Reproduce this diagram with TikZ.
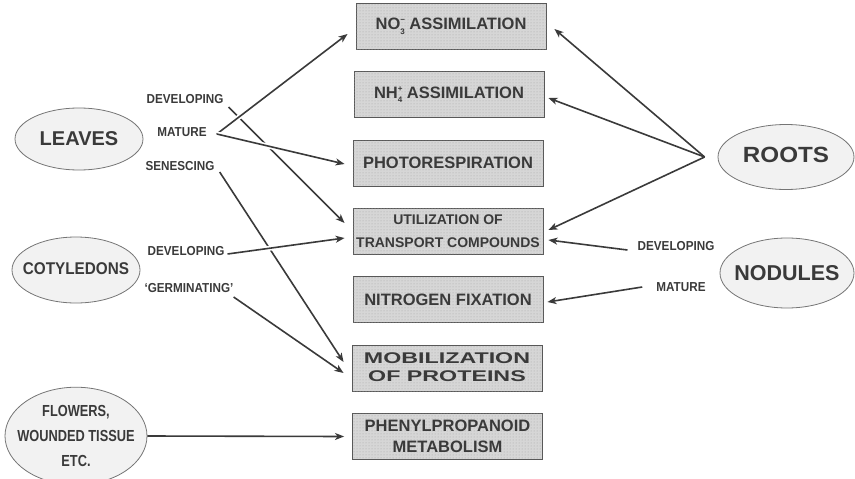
\documentclass[tikz,border=0pt]{standalone}
\usepackage{fontspec}
\setmainfont{Liberation Sans}
\usepackage{graphicx}
\usetikzlibrary{arrows.meta,shapes.geometric,patterns}
\definecolor{ink}{HTML}{3A3A3A}
\newcommand{\ionsub}[2]{\rlap{\raisebox{7pt}{\fontsize{8}{8}\selectfont #2}}\raisebox{-4.5pt}{\fontsize{8}{8}\selectfont #1}}
\newcommand{\squeeze}[2]{\scalebox{#1}[1]{\begin{tabular}{@{}c@{}}#2\end{tabular}}}
\tikzset{>/.tip={Stealth[length=9pt,width=7pt,inset=2.5pt]},
  procbox/.style={draw=ink!85, fill=black!16, line width=0.9pt, minimum width=190pt, minimum height=46pt,
    postaction={pattern=dots, pattern color=black!35},
    align=center, text=ink, inner sep=0pt, font=\bfseries\fontsize{16.5}{21}\selectfont},
  organ/.style={ellipse, draw=ink!70, fill=black!5, line width=0.8pt, text=ink, align=center,
    inner xsep=-9pt, inner ysep=0pt},
  stage/.style={text=ink, inner sep=1pt, font=\bfseries\fontsize{13}{15}\selectfont},
  flow/.style={->, color=ink, line width=1.6pt},
  over/.style={preaction={draw=white, line width=5pt, -}}}

\begin{document}
\begin{tikzpicture}[x=1pt,y=-1pt]
\useasboundingbox (0,0) rectangle (855,479);

\node[procbox] (no3) at (451,26.5) {NO\ionsub{3}{\textminus}\ ASSIMILATION};
\node[procbox] (nh4) at (449,94.5) {NH\ionsub{4}{+}\ ASSIMILATION};
\node[procbox] (photo) at (448,163) {PHOTORESPIRATION};
\node[procbox, font=\bfseries\fontsize{14}{23}\selectfont] (util) at (448,231.5) {UTILIZATION OF\\TRANSPORT COMPOUNDS};
\node[procbox] (fix) at (448,299.5) {NITROGEN FIXATION};
\node[procbox, font=\bfseries\fontsize{15.5}{18}\selectfont] (mobil) at (447,368.5) {\squeeze{1.5}{MOBILIZATION\\OF PROTEINS}};
\node[procbox] (phenyl) at (447.5,436.5) {PHENYLPROPANOID\\METABOLISM};

\node[organ, minimum width=128pt, minimum height=62pt, font=\bfseries\fontsize{20}{24}\selectfont] (leaves) at (79,139) {LEAVES};
\node[organ, minimum width=128pt, minimum height=66pt, font=\bfseries\fontsize{17}{20}\selectfont] (cotyl) at (76,270) {\squeeze{0.9}{COTYLEDONS}};
\node[organ, minimum width=142pt, minimum height=82pt, inner ysep=-3pt, font=\bfseries\fontsize{16}{25}\selectfont] (flowers) at (76,436) {\squeeze{0.8}{FLOWERS,\\WOUNDED TISSUE\\ETC.}};
\node[organ, minimum width=136pt, minimum height=65pt, font=\bfseries\fontsize{22}{26}\selectfont] (roots) at (786,157) {\squeeze{1.1}{ROOTS}};
\node[organ, minimum width=134pt, minimum height=70pt, font=\bfseries\fontsize{21.5}{26}\selectfont] (nodules) at (787,273) {NODULES};

\node[stage] (leaves-dev) at (185,100) {\squeeze{0.9}{DEVELOPING}};
\node[stage] (leaves-mat) at (182,133) {\squeeze{0.9}{MATURE}};
\node[stage] (leaves-sen) at (180,167) {\squeeze{0.9}{SENESCING}};
\node[stage] (cot-dev) at (186,252) {\squeeze{0.9}{DEVELOPING}};
\node[stage] (cot-germ) at (189,289) {\squeeze{0.9}{`GERMINATING'}};
\node[stage] (nod-dev) at (676,247) {\squeeze{0.9}{DEVELOPING}};
\node[stage] (nod-mat) at (681,288) {\squeeze{0.9}{MATURE}};

\coordinate (roots-in) at ([xshift=-13pt]roots.west);

\path[flow] ([xshift=4pt,yshift=-7pt]leaves-dev.east) edge ([xshift=-8pt,yshift=8.5pt]util.west);
\path[flow] ([xshift=4pt,yshift=-5pt]leaves-sen.east) edge ([xshift=-8pt,yshift=6.5pt]mobil.west);
\path[flow] ([xshift=9pt,yshift=-1pt]leaves-mat.east) edge[over] ([xshift=-8pt,yshift=-7.5pt]no3.west);
\path[flow] ([xshift=9pt,yshift=-1pt]leaves-mat.east) edge[over] ([xshift=-8pt,yshift=-1pt]photo.west);
\path[flow] ([xshift=2pt,yshift=-2pt]cot-dev.east) edge[over] ([xshift=-8pt,yshift=-6.5pt]util.west);
\path[flow] ([xshift=-1pt,yshift=-8pt]cot-germ.east) edge ([xshift=-8pt,yshift=-4.5pt]mobil.west);
\path[flow] (flowers.east) edge ([xshift=-8pt]phenyl.west);

\path[flow] (roots-in) edge ([xshift=8pt,yshift=-2.5pt]no3.east);
\path[flow] (roots-in) edge ([xshift=4pt,yshift=-3.5pt]nh4.east);
\path[flow] (roots-in) edge ([xshift=5pt,yshift=1.5pt]util.east);
\path[flow] ([xshift=-9pt,yshift=-3pt]nod-dev.west) edge ([xshift=5pt,yshift=-8.5pt]util.east);
\path[flow] ([xshift=-13pt,yshift=1pt]nod-mat.west) edge ([xshift=4pt,yshift=-2.5pt]fix.east);
\end{tikzpicture}
\end{document}
